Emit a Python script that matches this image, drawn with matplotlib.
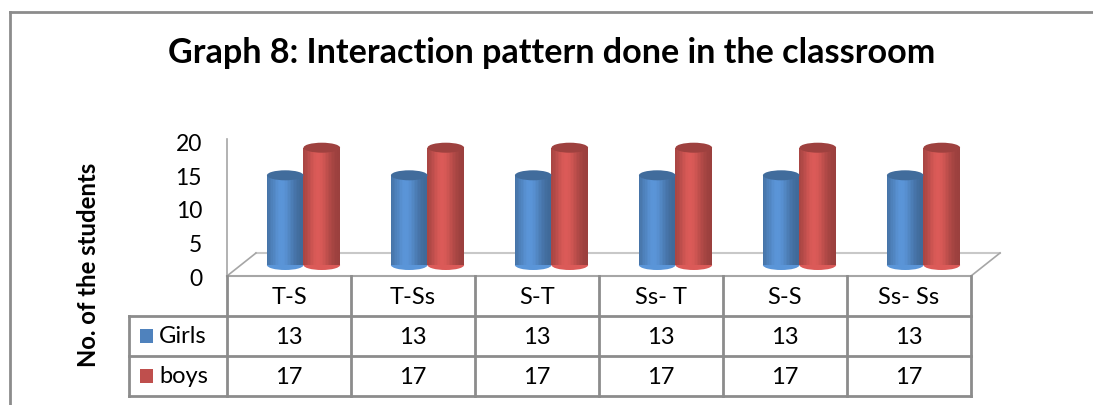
import numpy as np
import matplotlib.pyplot as plt
from matplotlib.patches import Ellipse, Rectangle

plt.rcParams['font.family'] = ['Lato', 'DejaVu Sans']

# data
categories = ['T-S', 'T-Ss', 'S-T', 'Ss- T', 'S-S', 'Ss- Ss']
girls = [13, 13, 13, 13, 13, 13]
boys = [17, 17, 17, 17, 17, 17]
series_names = ['Girls', 'boys']

W, H = 1093, 406
BLUE = np.array([0.31, 0.51, 0.74])
RED = np.array([0.75, 0.31, 0.30])
GRID = '#8c8c8c'


# figure pixel (x from left, y from top) -> figure fraction
def fx(x):
	return x / W


def fy(y):
	return 1 - y / H


def shade(col, t):
	# cylinder shading profile, bright a bit left of centre
	b = 0.74 + 0.34 * np.exp(-((t - 0.4) / 0.34) ** 2)
	return np.clip(col * b, 0, 1)


def cylinder(ax, x, v, w, col, eh):
	n = 24
	edges = np.linspace(x - w / 2, x + w / 2, n + 1)
	for k in range(n):
		t = (k + 0.5) / n
		ax.bar((edges[k] + edges[k + 1]) / 2, v, width=w / n * 1.05, bottom=0,
			   color=shade(col, t), linewidth=0, zorder=3)
	ax.add_patch(Ellipse((x, 0), w, eh, facecolor=shade(col, 0.4), edgecolor='none',
						 zorder=2, clip_on=False))
	ax.add_patch(Ellipse((x, v), w, eh, facecolor=col * 0.78, edgecolor='none',
						 zorder=4, clip_on=False))


fig = plt.figure(figsize=(W / 100, H / 100), dpi=100)

# pixel overlay for frame, floor and table
ov = fig.add_axes([0, 0, 1, 1])
ov.set_xlim(0, W)
ov.set_ylim(H, 0)
ov.axis('off')

# outer chart border (top and left visible)
ov.plot([10, W], [13, 13], color=GRID, lw=2)
ov.plot([10, 10], [13, H], color=GRID, lw=2)

# title
title = ov.text(552, 53, 'Graph 8: Interaction pattern done in the classroom',
				ha='center', va='center', fontsize=22, fontweight='bold')
ylab = ov.text(89, 265, 'No. of the students', ha='center', va='center',
			   rotation=90, fontsize=15, fontweight='bold')

# fit text widths to reference
fig.canvas.draw()
r = fig.canvas.get_renderer()
bb = title.get_window_extent(r)
title.set_fontsize(22 * 765 / bb.width)
bb = ylab.get_window_extent(r)
ylab.set_fontsize(15 * 205 / bb.height)

# table geometry
x0, x1 = 227, 971
col_x = np.linspace(x0, x1, len(categories) + 1)
row_y = [277, 317, 357, 397]
left_x = 129

# floor
ov.plot([x0, x1], [277, 277], color='#a6a6a6', lw=1.5)
ov.plot([256, 1000], [254, 254], color='#c8c8c8', lw=1.5)
ov.plot([x0, 256], [277, 254], color='#a6a6a6', lw=1.2)
ov.plot([x1, 1000], [277, 254], color='#a6a6a6', lw=1.2)
ov.plot([x0, x0], [140, 277], color='#a6a6a6', lw=1.2)

# table lines
lw = 2
ov.plot([x0, x0], [row_y[0], row_y[3]], color=GRID, lw=lw)
for cx in col_x[1:]:
	ov.plot([cx, cx], [row_y[0], row_y[3]], color=GRID, lw=lw)
ov.plot([left_x, left_x], [row_y[1], row_y[3]], color=GRID, lw=lw)
for ry in row_y[1:]:
	ov.plot([left_x, x1], [ry, ry], color=GRID, lw=lw)

fs = 17
for i, c in enumerate(categories):
	cx = (col_x[i] + col_x[i + 1]) / 2
	ov.text(cx, (row_y[0] + row_y[1]) / 2 + 1, c, ha='center', va='center', fontsize=fs)
	ov.text(cx, (row_y[1] + row_y[2]) / 2 + 1, str(girls[i]), ha='center', va='center', fontsize=fs)
	ov.text(cx, (row_y[2] + row_y[3]) / 2 + 1, str(boys[i]), ha='center', va='center', fontsize=fs)

for j, (name, col) in enumerate(zip(series_names, [BLUE, RED])):
	ym = (row_y[j + 1] + row_y[j + 2]) / 2
	ov.add_patch(Rectangle((140, ym - 7), 13, 14, facecolor=col, edgecolor='none'))
	ov.text(159, ym, name, ha='left', va='center', fontsize=fs)

# y tick axis (front plane)
tax = fig.add_axes([fx(x0), fy(277), fx(x1) - fx(x0), fy(143) - fy(277)])
tax.set_ylim(0, 20)
tax.set_yticks([0, 5, 10, 15, 20])
tax.set_xticks([])
for s in tax.spines.values():
	s.set_visible(False)
tax.tick_params(axis='y', length=0, labelsize=16.5, pad=18)
tax.patch.set_alpha(0)

# bar axes (mid depth, shifted right)
bax = fig.add_axes([fx(x0 + 14.5), fy(266), fx(x1) - fx(x0), fy(128) - fy(266)])
bax.set_xlim(-0.5, len(categories) - 0.5)
bax.set_ylim(0, 20)
bax.axis('off')
bw = 0.295
eh = 1.45
for i in range(len(categories)):
	cylinder(bax, i - bw / 2, girls[i], bw, BLUE * 1.06, eh)
	cylinder(bax, i + bw / 2, boys[i], bw, RED * 1.06, eh)

fig.savefig('out.png', dpi=100)
